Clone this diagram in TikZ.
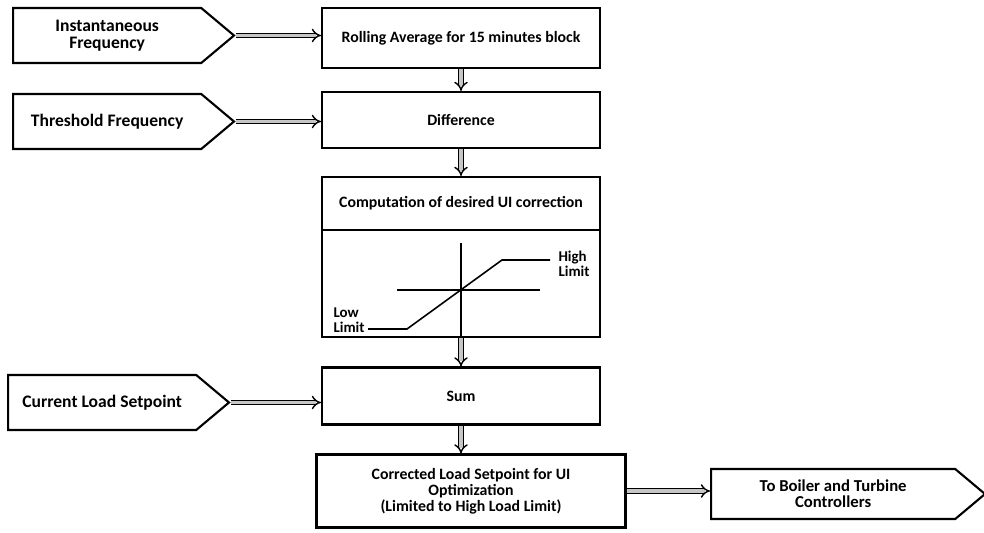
\documentclass[tikz,border=0pt]{standalone}
\usepackage{fontspec}
\setmainfont{Carlito}
\usetikzlibrary{arrows.meta,positioning,shapes.symbols}

\begin{document}
\begin{tikzpicture}[x=0.02cm,y=-0.02cm,
    blockbox/.style={draw,fill=white,line width=1.2pt,minimum width=5.56cm,
                     font=\bfseries\fontsize{9}{9}\selectfont,align=center,inner sep=2pt},
    inbox/.style={draw,fill=white,line width=1.2pt,signal,signal to=east,anchor=west,
                  signal pointer angle=80,minimum width=4.42cm,minimum height=1.1cm,
                  font=\bfseries\fontsize{10}{10}\selectfont,align=center,inner sep=2pt},
    flow/.style={double=gray!45,double distance=1.8pt,line width=0.8pt,-{Implies}},
    limitlbl/.style={font=\bfseries\fontsize{8.5}{8.5}\selectfont,align=left,inner sep=0pt},
]

% ---- positions -----------------------------------------------------------
\def\xMid{461}
\def\xIn{12}

\useasboundingbox (0,0) rectangle (984,533);

% ---- Main column ---------------------------------------------------------
\node[blockbox,minimum height=1.2cm]  (roll)     at (\xMid,38)    {Rolling Average for 15 minutes block};
\node[blockbox,minimum height=1.12cm] (diff)     at (\xMid,120)   {Difference};
\node[blockbox,minimum height=1.06cm] (comphead) at (\xMid,203.5) {Computation of desired UI correction};
\node[blockbox,minimum height=2.14cm] (compplot) at (\xMid,283.5) {};
\node[blockbox,minimum height=1.14cm] (sum)      at (\xMid,396)   {Sum};
\node[blockbox,minimum width=6.18cm,minimum height=1.46cm] (corr) at (471,491)
    {Corrected Load Setpoint for UI\\Optimization\\(Limited to High Load Limit)};

% ---- Inputs / output -----------------------------------------------------
\node[inbox] (inst) at (\xIn,35.5)  {Instantaneous\\Frequency};
\node[inbox] (thr)  at (\xIn,121.5) {Threshold Frequency};
\node[inbox] (cur)  at (7,402.5)    {Current Load Setpoint};
\node[inbox,minimum width=5.48cm,minimum height=1cm,
      font=\bfseries\fontsize{9.5}{9}\selectfont] (boil) at (710,494)
    {To Boiler and Turbine\\Controllers};

% ---- Limiter characteristic ----------------------------------------------
\draw[line width=0.9pt] (\xMid,243) -- (\xMid,337);
\draw[line width=0.9pt] (397,290) -- (540,290);
\draw[line width=0.9pt] (368,329) -- (407,329) -- (502,260) -- (550,260);
\node[limitlbl] (lowlbl)  at (349,320) {Low\\Limit};
\node[limitlbl] (highlbl) at (574,264) {High\\Limit};

% ---- Connectors ----------------------------------------------------------
\draw[flow] (inst.east) -- (inst.east -| roll.west);
\draw[flow] (thr.east)  -- (thr.east -| diff.west);
\draw[flow] (cur.east)  -- (cur.east -| sum.west);
\draw[flow] (corr.east) -- (corr.east -| boil.west);

\draw[flow] (roll.south)     -- (diff.north);
\draw[flow] (diff.south)     -- (comphead.north);
\draw[flow] (compplot.south) -- (sum.north);
\draw[flow] (sum.south)      -- (sum.south |- corr.north);

\end{tikzpicture}
\end{document}
